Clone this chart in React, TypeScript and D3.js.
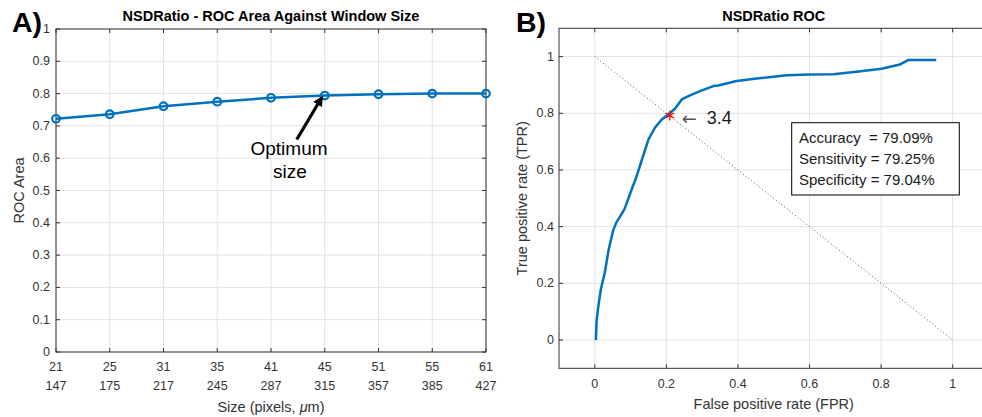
import React from "react";
import * as d3 from "d3";

const sizePixels = ["21", "25", "31", "35", "41", "45", "51", "55", "61"];
const sizeMicrons = ["147", "175", "217", "245", "287", "315", "357", "385", "427"];
const rocArea = [0.722, 0.736, 0.761, 0.775, 0.787, 0.794, 0.798, 0.8, 0.8];
const leftYTicks = [0, 0.1, 0.2, 0.3, 0.4, 0.5, 0.6, 0.7, 0.8, 0.9, 1];

const fpr = [0.003, 0.005, 0.01, 0.017, 0.028, 0.039, 0.051, 0.06, 0.082, 0.093, 0.105, 0.114, 0.126, 0.15, 0.168, 0.187, 0.205, 0.224, 0.243, 0.266, 0.294, 0.331, 0.345, 0.396, 0.452, 0.536, 0.601, 0.666, 0.731, 0.801, 0.852, 0.875, 0.954];
const tpr = [0.0, 0.067, 0.12, 0.179, 0.238, 0.32, 0.385, 0.414, 0.459, 0.496, 0.538, 0.567, 0.614, 0.708, 0.749, 0.778, 0.796, 0.816, 0.849, 0.863, 0.878, 0.896, 0.898, 0.914, 0.923, 0.934, 0.937, 0.938, 0.947, 0.957, 0.972, 0.988, 0.988];
const rocTicks = [0, 0.2, 0.4, 0.6, 0.8, 1];
const optimum = { fpr: 0.2096, tpr: 0.7925, label: "3.4" };
const stats = ["Accuracy  = 79.09%", "Sensitivity = 79.25%", "Specificity = 79.04%"];

const FONT = "'Liberation Sans', Arial, Helvetica, sans-serif";
const AX = "#333333";
const GRID = "#e3e3e3";
const BLUE = "#0072BD";

export default function App() {
  // Left panel
  const L = { left: 56, right: 486, top: 29, bottom: 352 };
  const xA = d3.scalePoint<string>().domain(sizePixels).range([L.left, L.right]);
  const yA = d3.scaleLinear().domain([0, 1]).range([L.bottom, L.top]);
  const lineA = d3
    .line<number>()
    .x((_, i) => xA(sizePixels[i]) as number)
    .y((d) => yA(d));

  // Right panel
  const R = { left: 559, right: 988.5, top: 28.3, bottom: 368.3 };
  const xB = d3.scaleLinear().domain([-0.1, 1.1]).range([R.left, R.right]);
  const yB = d3.scaleLinear().domain([-0.1, 1.1]).range([R.bottom, R.top]);
  const lineB = d3
    .line<number>()
    .x((d) => xB(d))
    .y((_, i) => yB(tpr[i]));

  const star = d3.symbol().type(d3.symbolAsterisk).size(70)();

  const optIdx = 5;
  const tipX = (xA(sizePixels[optIdx]) as number) - 3;
  const tipY = yA(rocArea[optIdx]) + 2;
  const tailX = tipX - 25;
  const tailY = tipY + 42;

  const fmt = (v: number) => d3.format("~g")(v);
  const sx = xB(optimum.fpr);
  const sy = yB(optimum.tpr);

  return (
    <svg
      width={982}
      height={417}
      style={{ position: "absolute", left: 0, top: 0, background: "#fff" }}
      fontFamily={FONT}
    >
      <defs>
        <marker id="ahead" viewBox="0 0 10 10" refX="8" refY="5" markerWidth="3.2" markerHeight="3.2" orient="auto">
          <path d="M0,0 L10,5 L0,10 z" fill="#000" />
        </marker>
        <clipPath id="clipB">
          <rect x={R.left} y={R.top} width={R.right - R.left} height={R.bottom - R.top} />
        </clipPath>
      </defs>
      <rect x={0} y={0} width={982} height={417} fill="#fff" />

      {/* ---------- Panel A ---------- */}
      <g>
        {sizePixels.map((s) => (
          <line key={"gx" + s} x1={xA(s)} x2={xA(s)} y1={L.top} y2={L.bottom} stroke={GRID} />
        ))}
        {leftYTicks.map((t) => (
          <line key={"gy" + t} x1={L.left} x2={L.right} y1={yA(t)} y2={yA(t)} stroke={GRID} />
        ))}
        <rect x={L.left} y={L.top} width={L.right - L.left} height={L.bottom - L.top} fill="none" stroke={AX} strokeWidth={1} />
        {sizePixels.map((s) => (
          <g key={"tx" + s}>
            <line x1={xA(s)} x2={xA(s)} y1={L.bottom} y2={L.bottom - 4} stroke={AX} />
            <line x1={xA(s)} x2={xA(s)} y1={L.top} y2={L.top + 4} stroke={AX} />
          </g>
        ))}
        {leftYTicks.map((t) => (
          <g key={"ty" + t}>
            <line x1={L.left} x2={L.left + 4} y1={yA(t)} y2={yA(t)} stroke={AX} />
            <line x1={L.right} x2={L.right - 4} y1={yA(t)} y2={yA(t)} stroke={AX} />
            <text x={L.left - 6} y={yA(t)} textAnchor="end" dominantBaseline="central" fontSize={12.5} fill={AX}>
              {fmt(t)}
            </text>
          </g>
        ))}
        {sizePixels.map((s, i) => (
          <g key={"lx" + s}>
            <text x={xA(s)} y={367} textAnchor="middle" dominantBaseline="central" fontSize={12.5} fill={AX}>
              {s}
            </text>
            <text x={xA(s)} y={385.5} textAnchor="middle" dominantBaseline="central" fontSize={12.5} fill={AX}>
              {sizeMicrons[i]}
            </text>
          </g>
        ))}
        <text x={(L.left + L.right) / 2} y={407} textAnchor="middle" dominantBaseline="central" fontSize={14.5} fill={AX}>
          Size (pixels, <tspan fontStyle="italic">μ</tspan>m)
        </text>
        <text
          transform={`translate(19,${(L.top + L.bottom) / 2}) rotate(-90)`}
          textAnchor="middle"
          dominantBaseline="central"
          fontSize={14.5}
          fill={AX}
        >
          ROC Area
        </text>
        <text x={(L.left + L.right) / 2} y={16} textAnchor="middle" dominantBaseline="central" fontSize={14.5} fontWeight="bold" fill="#000">
          NSDRatio - ROC Area Against Window Size
        </text>
        <path d={lineA(rocArea) || ""} fill="none" stroke={BLUE} strokeWidth={2.5} />
        {rocArea.map((v, i) => (
          <circle key={"m" + i} cx={xA(sizePixels[i])} cy={yA(v)} r={3.8} fill="none" stroke={BLUE} strokeWidth={2.2} />
        ))}
        <line x1={tailX} y1={tailY} x2={tipX} y2={tipY} stroke="#000" strokeWidth={3.2} markerEnd="url(#ahead)" />
        <text x={289} y={155} textAnchor="middle" fontSize={19} fill="#000">Optimum</text>
        <text x={290} y={178} textAnchor="middle" fontSize={19} fill="#000">size</text>
        <text x={12} y={32} fontSize={28.5} fontWeight="bold" fill="#000">A)</text>
      </g>

      {/* ---------- Panel B ---------- */}
      <g>
        {rocTicks.map((t) => (
          <g key={"gb" + t}>
            <line x1={xB(t)} x2={xB(t)} y1={R.top} y2={R.bottom} stroke={GRID} />
            <line x1={R.left} x2={R.right} y1={yB(t)} y2={yB(t)} stroke={GRID} />
          </g>
        ))}
        <rect x={R.left} y={R.top} width={R.right - R.left} height={R.bottom - R.top} fill="none" stroke={AX} strokeWidth={1} />
        {rocTicks.map((t) => (
          <g key={"tb" + t}>
            <line x1={xB(t)} x2={xB(t)} y1={R.bottom} y2={R.bottom - 4} stroke={AX} />
            <line x1={xB(t)} x2={xB(t)} y1={R.top} y2={R.top + 4} stroke={AX} />
            <line x1={R.left} x2={R.left + 4} y1={yB(t)} y2={yB(t)} stroke={AX} />
            <text x={xB(t)} y={383.5} textAnchor="middle" dominantBaseline="central" fontSize={12.5} fill={AX}>
              {fmt(t)}
            </text>
            <text x={R.left - 5} y={yB(t)} textAnchor="end" dominantBaseline="central" fontSize={12.5} fill={AX}>
              {fmt(t)}
            </text>
          </g>
        ))}
        <text x={(R.left + R.right) / 2} y={404} textAnchor="middle" dominantBaseline="central" fontSize={14.5} fill={AX}>
          False positive rate (FPR)
        </text>
        <text
          transform={`translate(522,${(R.top + R.bottom) / 2}) rotate(-90)`}
          textAnchor="middle"
          dominantBaseline="central"
          fontSize={14.5}
          fill={AX}
        >
          True positive rate (TPR)
        </text>
        <text x={(R.left + R.right) / 2} y={16} textAnchor="middle" dominantBaseline="central" fontSize={14.5} fontWeight="bold" fill="#000">
          NSDRatio ROC
        </text>
        <g clipPath="url(#clipB)">
          <line x1={xB(0)} y1={yB(1)} x2={xB(1)} y2={yB(0)} stroke="#555" strokeWidth={1} strokeDasharray="1,2.5" />
          <path d={lineB(fpr) || ""} fill="none" stroke={BLUE} strokeWidth={2.5} strokeLinejoin="round" />
          <path d={star || ""} transform={`translate(${sx},${sy})`} fill="none" stroke="#ff0000" strokeWidth={1.2} />
        </g>
        <text x={sx + 12} y={sy + 3} dominantBaseline="central" fontSize={18} fontFamily="'DejaVu Sans', sans-serif" fill="#555">
          ←
        </text>
        <text x={sx + 37} y={sy + 3} dominantBaseline="central" fontSize={18} fill="#1a1a1a">
          {optimum.label}
        </text>
        <rect x={791.7} y={122.7} width={167.6} height={72.3} fill="#fff" stroke="#000" strokeWidth={1} />
        {stats.map((s, i) => (
          <text key={s} x={799} y={143.3 + i * 20.8} fontSize={15} fill="#1a1a1a" style={{ whiteSpace: "pre" }}>
            {s}
          </text>
        ))}
        <text x={516} y={32} fontSize={28.5} fontWeight="bold" fill="#000">B)</text>
      </g>
    </svg>
  );
}
